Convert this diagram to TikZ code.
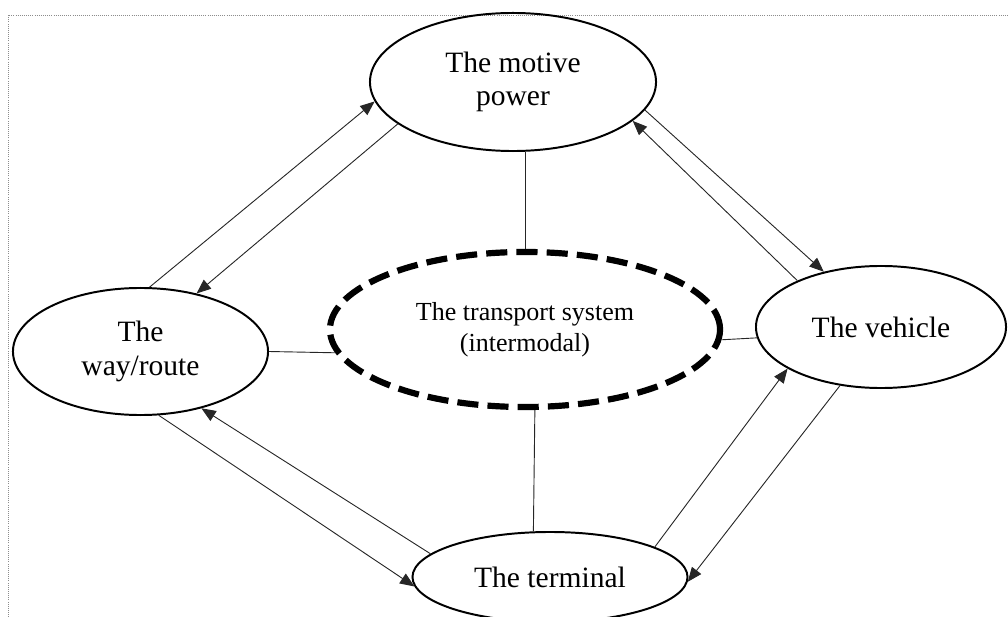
\documentclass[tikz,border=0pt]{standalone}
\usepackage{fontspec}
\setmainfont{Liberation Serif}
\usetikzlibrary{arrows.meta,shapes.geometric}

\begin{document}
\begin{tikzpicture}[x=0.025cm,y=-0.025cm,part/.style={ellipse,draw,line width=1.4pt,inner sep=0pt,align=center,font=\fontsize{21}{24}\selectfont},core/.style={ellipse,draw,line width=4.4pt,dash pattern=on 15pt off 6.5pt,inner sep=0pt,align=center,font=\fontsize{18.5}{22}\selectfont},link/.style={draw=black!85,line width=0.65pt},arr/.style={-{Triangle[length=3.6mm,width=2.9mm]},draw=black!85,line width=0.65pt}]
\useasboundingbox (0,0) rectangle (1008,617);
\draw[black!45,densely dotted,line width=0.5pt] (8,617)--(8,15)--(1008,15);
\node[part,minimum width=7.15cm,minimum height=3.45cm] (mp) at (513,82) {The motive\\power};
\node[part,minimum width=6.375cm,minimum height=3.175cm] (way) at (140.5,351.5) {The\\way/route};
\node[part,minimum width=6.25cm,minimum height=3.05cm] (veh) at (881,327) {The vehicle};
\node[part,minimum width=6.875cm,minimum height=2.25cm] (term) at (550,577) {The terminal};
\node[core,minimum width=9.75cm,minimum height=3.875cm] (ts) at (525,329.5) {The transport system\\(intermodal)};
\draw[link] (ts.north)--(ts.north |- mp.south);\draw[link] (ts.277)--(term.110);
\draw[link] (way.east)--(ts.187);\draw[link] (ts.357)--(veh.185);
\draw[arr] (way.82)--(mp.188);\draw[arr] (mp.200)--(way.46);
\draw[arr] (mp.348)--(veh.136);\draw[arr] (veh.151)--(mp.342);
\draw[arr] (term.169)--(way.317);\draw[arr] (way.286)--(term.184);
\draw[arr] (term.16)--(veh.204);\draw[arr] (veh.235)--(term.358);
\end{tikzpicture}
\end{document}
